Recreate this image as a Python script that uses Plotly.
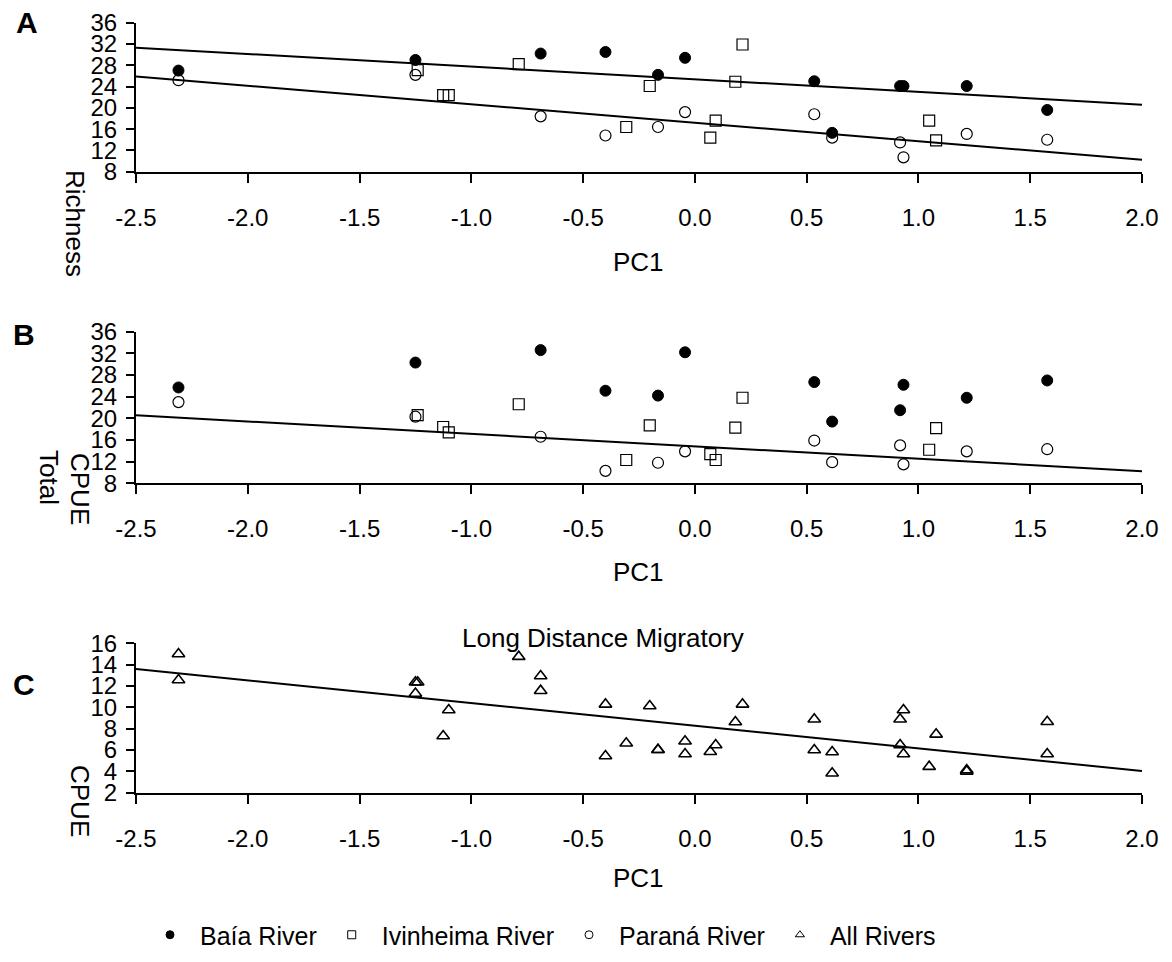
import plotly.graph_objects as go

# ---------------- data ----------------
pc1_baia = [-2.31, -1.25, -0.69, -0.40, -0.165, -0.044, 0.534, 0.614, 0.918, 0.933, 1.216, 1.576]
pc1_parana = [-2.31, -1.25, -0.69, -0.40, -0.165, -0.044, 0.534, 0.614, 0.918, 0.933, 1.216, 1.576]
pc1_ivinheima = [-1.24, -1.126, -1.101, -0.788, -0.307, -0.202, 0.069, 0.093, 0.181, 0.213, 1.048, 1.079]

richness_baia = [27.0, 29.0, 30.2, 30.5, 26.2, 29.4, 25.0, 15.3, 24.1, 24.1, 24.1, 19.6]
richness_ivinheima = [27.1, 22.4, 22.4, 28.2, 16.4, 24.1, 14.4, 17.6, 24.9, 31.9, 17.6, 13.9]
richness_parana = [25.2, 26.2, 18.4, 14.8, 16.4, 19.2, 18.8, 14.4, 13.5, 10.7, 15.1, 14.0]

cpue_baia = [25.7, 30.3, 32.6, 25.1, 24.2, 32.2, 26.7, 19.4, 21.5, 26.2, 23.8, 27.0]
cpue_ivinheima = [20.6, 18.4, 17.4, 22.6, 12.3, 18.7, 13.4, 12.3, 18.3, 23.8, 14.2, 18.2]
cpue_parana = [23.0, 20.3, 16.6, 10.3, 11.8, 13.9, 15.9, 11.9, 15.0, 11.5, 13.9, 14.3]

ldm_baia = [15.0, 12.35, 12.94, 10.28, 6.03, 6.82, 8.88, 5.81, 8.88, 9.75, 4.13, 8.65]
ldm_ivinheima = [12.35, 7.31, 9.75, 14.75, 6.63, 10.12, 5.84, 6.47, 8.62, 10.28, 4.44, 7.47]
ldm_parana = [12.56, 11.3, 11.56, 5.44, 6.03, 5.63, 6.0, 3.82, 6.47, 5.63, 4.0, 5.63]
pc1_all = pc1_baia + pc1_ivinheima + pc1_parana
ldm_all = ldm_baia + ldm_ivinheima + ldm_parana

# regression lines (intercept, slope)
fit_richness_baia = (25.36, -2.378)
fit_richness_parana = (17.20, -3.478)
fit_cpue_parana = (14.83, -2.296)
fit_ldm_all = (8.28, -2.124)

x_range = [-2.5, 2.0]
x_ticks = [-2.5, -2.0, -1.5, -1.0, -0.5, 0.0, 0.5, 1.0, 1.5, 2.0]
x_ticktext = ["-2.5", "-2.0", "-1.5", "-1.0", "-0.5", "0.0", "0.5", "1.0", "1.5", "2.0"]
y_ticks_ab = [8, 12, 16, 20, 24, 28, 32, 36]
y_ticks_c = [2, 4, 6, 8, 10, 12, 14, 16]

legend_names = ["Baía River", "Ivinheima River", "Paraná River", "All Rivers"]

# ---------------- layout helpers ----------------
W, H = 1172, 962
FONT = "Liberation Sans, Arial, sans-serif"


def py(p):
    return 1 - p / H


def px(p):
    return p / W


xdom = [px(136), px(1142)]
dom_a = [py(171.7), py(22.7)]
dom_b = [py(483.3), py(331.7)]
dom_c = [py(792.7), py(643.3)]

fig = go.Figure()

filled = dict(symbol="circle", size=11, color="black", line=dict(color="black", width=1))
square = dict(symbol="square-open", size=11, color="black", line=dict(color="black", width=1.2))
circle = dict(symbol="circle-open", size=11, color="black", line=dict(color="black", width=1.2))
tri = dict(symbol="triangle-up-open", size=11, color="black", line=dict(color="black", width=1.6))


def line_from_fit(fit):
    b0, b1 = fit
    return [b0 + b1 * x for x in x_range]


# Panel A
fig.add_trace(go.Scatter(x=x_range, y=line_from_fit(fit_richness_baia), mode="lines",
                         line=dict(color="black", width=2), showlegend=False, xaxis="x", yaxis="y"))
fig.add_trace(go.Scatter(x=x_range, y=line_from_fit(fit_richness_parana), mode="lines",
                         line=dict(color="black", width=2), showlegend=False, xaxis="x", yaxis="y"))
fig.add_trace(go.Scatter(x=pc1_baia, y=richness_baia, mode="markers", marker=filled,
                         showlegend=False, xaxis="x", yaxis="y"))
fig.add_trace(go.Scatter(x=pc1_ivinheima, y=richness_ivinheima, mode="markers", marker=square,
                         showlegend=False, xaxis="x", yaxis="y"))
fig.add_trace(go.Scatter(x=pc1_parana, y=richness_parana, mode="markers", marker=circle,
                         showlegend=False, xaxis="x", yaxis="y"))

# Panel B
fig.add_trace(go.Scatter(x=x_range, y=line_from_fit(fit_cpue_parana), mode="lines",
                         line=dict(color="black", width=2), showlegend=False, xaxis="x2", yaxis="y2"))
fig.add_trace(go.Scatter(x=pc1_baia, y=cpue_baia, mode="markers", marker=filled,
                         showlegend=False, xaxis="x2", yaxis="y2"))
fig.add_trace(go.Scatter(x=pc1_ivinheima, y=cpue_ivinheima, mode="markers", marker=square,
                         showlegend=False, xaxis="x2", yaxis="y2"))
fig.add_trace(go.Scatter(x=pc1_parana, y=cpue_parana, mode="markers", marker=circle,
                         showlegend=False, xaxis="x2", yaxis="y2"))

# Panel C
fig.add_trace(go.Scatter(x=x_range, y=line_from_fit(fit_ldm_all), mode="lines",
                         line=dict(color="black", width=2), showlegend=False, xaxis="x3", yaxis="y3"))
fig.add_trace(go.Scatter(x=pc1_all, y=ldm_all, mode="markers", marker=tri,
                         showlegend=False, xaxis="x3", yaxis="y3"))

# legend entries
for name, mk in zip(legend_names, [filled, square, circle, tri]):
    m = dict(mk)
    m["size"] = 8
    m["line"] = dict(color="black", width=1)
    fig.add_trace(go.Scatter(x=[None], y=[None], mode="markers", marker=m, name=name,
                             showlegend=True, xaxis="x3", yaxis="y3"))

xaxis_common = dict(range=x_range, tickmode="array", tickvals=x_ticks, ticktext=x_ticktext,
                    showline=True, linecolor="black", linewidth=2, ticks="outside", ticklen=9,
                    tickwidth=2, tickcolor="black", showgrid=False, zeroline=False,
                    tickfont=dict(family=FONT, size=24, color="black"), ticklabelstandoff=14,
                    domain=xdom, fixedrange=True, automargin=False)
yaxis_common = dict(showline=True, linecolor="black", linewidth=2, ticks="outside", ticklen=8,
                    tickwidth=2, tickcolor="black", showgrid=False, zeroline=False,
                    tickfont=dict(family=FONT, size=24, color="black"), ticklabelstandoff=4,
                    tickmode="array", fixedrange=True, automargin=False)

fig.update_layout(
    width=W, height=H, margin=dict(l=0, r=0, t=0, b=0, autoexpand=False),
    paper_bgcolor="white", plot_bgcolor="white",
    font=dict(family=FONT, color="black"),
    xaxis=dict(xaxis_common, anchor="y"),
    yaxis=dict(yaxis_common, range=[8, 36], tickvals=y_ticks_ab, domain=dom_a, anchor="x"),
    xaxis2=dict(xaxis_common, anchor="y2"),
    yaxis2=dict(yaxis_common, range=[8, 36], tickvals=y_ticks_ab, domain=dom_b, anchor="x2"),
    xaxis3=dict(xaxis_common, anchor="y3"),
    yaxis3=dict(yaxis_common, range=[2, 16], tickvals=y_ticks_c, domain=dom_c, anchor="x3"),
    showlegend=True,
    legend=dict(orientation="h", x=px(140), xanchor="left", y=py(935), yanchor="middle",
                font=dict(family=FONT, size=25, color="black"), bgcolor="rgba(0,0,0,0)",
                itemwidth=50, tracegroupgap=0),
)

ann = []


def add_text(text, x, y, size=26, angle=0, bold=False):
    ann.append(dict(text=f"<b>{text}</b>" if bold else text, x=px(x), y=py(y), xref="paper", yref="paper",
                    showarrow=False, textangle=angle, xanchor="center", yanchor="middle",
                    font=dict(family=FONT, size=size, color="black")))


add_text("A", 27, 22, size=30, bold=True)
add_text("B", 24, 334, size=30, bold=True)
add_text("C", 24, 684, size=30, bold=True)
add_text("Richness", 75, 223, size=26, angle=90)
add_text("Total", 49, 477, size=26, angle=90)
add_text("CPUE", 80, 489, size=26, angle=90)
add_text("CPUE", 80, 801, size=26, angle=90)
add_text("PC1", 639, 262, size=26)
add_text("PC1", 639, 572, size=26)
add_text("PC1", 639, 878, size=26)
add_text("Long Distance Migratory", 603, 638, size=26)
fig.update_layout(annotations=ann)

fig.write_html("out.html")
